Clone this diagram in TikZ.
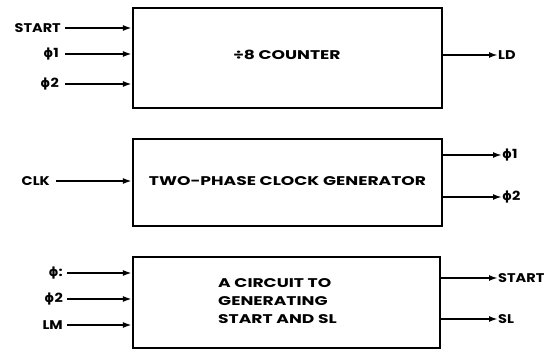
\documentclass[tikz,border=0pt]{standalone}
\usepackage{fontspec}
\setmainfont{Poppins}
\newfontfamily\boxfont[FakeStretch=1.36]{Poppins}
\newfontfamily\sidefont[FakeStretch=1.15]{Poppins}
\newfontfamily\phifont{DejaVu Sans}
\usetikzlibrary{arrows.meta}
\newcommand{\ph}{{\phifont\bfseries ϕ}}
\begin{document}
\begin{tikzpicture}[x=1pt,y=-1pt,
  blk/.style={draw,line width=2.2pt,rectangle,inner sep=0pt},
  lbl/.style={font=\sidefont\bfseries\fontsize{12.6}{14}\selectfont,inner sep=0pt},
  blbl/.style={font=\boxfont\bfseries\fontsize{12.6}{18}\selectfont,inner sep=0pt},
  conn/.style={line width=2.2pt,-{Latex[length=9pt,width=6pt]}}]
\useasboundingbox (0,0) rectangle (560,355);
% boxes
\node[blk,minimum width=309pt,minimum height=100pt] (b1) at (287.5,58) {};
\node[blk,minimum width=309pt,minimum height=87pt] (b2) at (287.5,182.5) {};
\node[blk,minimum width=307pt,minimum height=91pt] (b3) at (286.5,302.5) {};
\node[blbl] (t1) at (287,55) {÷8 COUNTER};
\node[blbl] (t2) at (287.5,181) {TWO-PHASE CLOCK GENERATOR};
\node[blbl,align=left,anchor=west] (t3) at (218,301) {A CIRCUIT TO\\GENERATING\\START AND SL};
% box 1 inputs
\node[lbl,anchor=east] (i1a) at (61,28) {START};
\node[lbl,anchor=east] (i1b) at (59,54) {\ph1};
\node[lbl,anchor=east] (i1c) at (59,84) {\ph2};
\draw[conn] (i1a.east) ++(4,0) coordinate (s1a) -- (s1a -| b1.west);
\draw[conn] (i1b.east) ++(6,0) coordinate (s1b) -- (s1b -| b1.west);
\draw[conn] (i1c.east) ++(6,0) coordinate (s1c) -- (s1c -| b1.west);
% box 1 output
\coordinate (o1) at (b1.east |- 0,55);
\node[lbl,anchor=west] (ld) at (498,55) {LD};
\draw[conn] (o1) -- (ld.west);
% box 2 input
\node[lbl,anchor=east] (clk) at (50,181) {CLK};
\draw[conn] (clk.east) ++(6,0) coordinate (sclk) -- (sclk -| b2.west);
% box 2 outputs
\node[lbl,anchor=west] (p1) at (502,155) {\ph1};
\node[lbl,anchor=west] (p2) at (502,197) {\ph2};
\draw[conn] (p1.west -| b2.east) -- (p1.west);
\draw[conn] (p2.west -| b2.east) -- (p2.west);
% box 3 inputs
\node[lbl,anchor=east] (i3a) at (63,273) {\ph:};
\node[lbl,anchor=east] (i3b) at (63,299) {\ph2};
\node[lbl,anchor=east] (i3c) at (63,325) {LM};
\draw[conn] (i3a.east) ++(4,0) coordinate (s3a) -- (s3a -| b3.west);
\draw[conn] (i3b.east) ++(4,0) coordinate (s3b) -- (s3b -| b3.west);
\draw[conn] (i3c.east) ++(4,0) coordinate (s3c) -- (s3c -| b3.west);
% box 3 outputs
\node[lbl,anchor=west] (st) at (498,278) {START};
\node[lbl,anchor=west] (sl) at (498,319) {SL};
\draw[conn] (st.west -| b3.east) -- (st.west);
\draw[conn] (sl.west -| b3.east) -- (sl.west);
\end{tikzpicture}
\end{document}
